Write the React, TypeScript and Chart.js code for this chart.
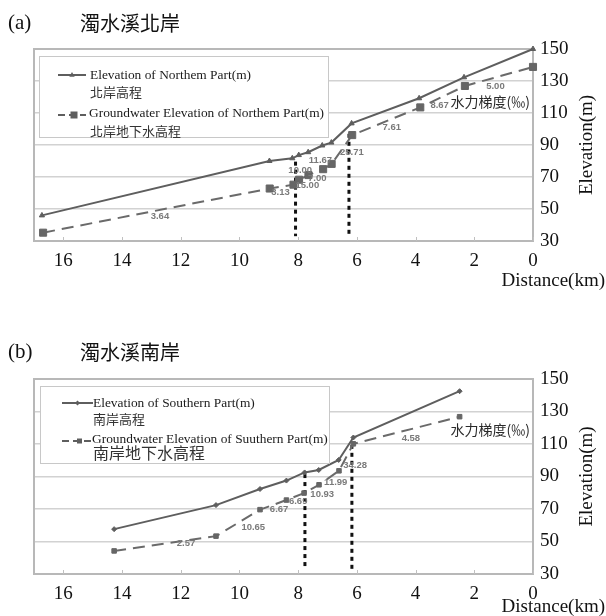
import React, { useEffect, useRef } from 'react';
import { Chart, registerables } from 'chart.js';
Chart.register(...registerables);

// ---------- Panel (a) data: north bank ----------
const northElevDist = [16.73, 8.98, 8.2, 7.98, 7.66, 7.18, 6.87, 6.18, 3.88, 2.35, 0];
const northElev = [46, 80, 81.7, 83.7, 85.5, 89.7, 91.5, 103.5, 119.2, 132.3, 150];
const northGwDist = [16.69, 8.97, 8.16, 7.97, 7.65, 7.15, 6.86, 6.16, 3.84, 2.32, 0];
const northGw = [35.2, 62.8, 65.2, 68.3, 71.2, 74.9, 78.2, 96.2, 113.5, 126.9, 138.8];
const northGradText = ['3.64', '3.13', '15.00', '10.00', '7.00', '11.67', '25.71', '7.61', '8.67', '5.00'];
const northGradX = [12.71, 8.6, 7.69, 7.93, 7.35, 7.24, 6.17, 4.81, 3.18, 1.28];
const northGradY = [45.6, 60.3, 64.5, 73.9, 69.4, 80.2, 85.2, 101.3, 114.7, 126.4];
const northCutX = [8.09, 6.27];
const northCutTop = [79.6, 97];

// ---------- Panel (b) data: south bank ----------
const southElevDist = [14.27, 10.8, 9.3, 8.4, 7.78, 7.3, 6.62, 6.12, 2.5];
const southElev = [57.6, 72.4, 82.3, 87.5, 92.5, 94, 100.2, 114, 142.5];
const southGwDist = [14.27, 10.8, 9.3, 8.4, 7.8, 7.29, 6.61, 6.12, 2.5];
const southGw = [44.2, 53.3, 69.6, 75.5, 79.8, 84.9, 93.5, 110.1, 126.8];
const southGradText = ['2.57', '10.65', '6.67', '6.69', '10.93', '11.99', '34.28', '4.58'];
const southGradX = [11.82, 9.53, 8.65, 8.0, 7.18, 6.72, 6.06, 4.16];
const southGradY = [48.6, 59, 69.7, 74.7, 79.2, 86.1, 96.9, 113.4];
const southCutX = [7.77, 6.17];
const southCutTop = [91.5, 109.5];

// ---------- axes ----------
const distMin = 0;
const distMax = 17;
const distStep = 2;
const elevMin = 30;
const elevMax = 150;
const elevStep = 20;
const cutBottom = 33;

const SERIF = '"Liberation Serif", "Noto Sans CJK TC", serif';
const CJK = '"Noto Sans CJK TC", "Liberation Serif", sans-serif';

type PanelProps = {
  height: number;
  plotTop: number;
  plotBottom: number;
  tag: string;
  title: string;
  elevDist: number[];
  elev: number[];
  gwDist: number[];
  gw: number[];
  gradText: string[];
  gradX: number[];
  gradY: number[];
  cutX: number[];
  cutTop: number[];
  legend: {
    box: [number, number, number, number];
    l1: string; l1cn: string; l2: string; l2cn: string;
    l2cnSize: number;
    sampleX: [number, number];
    textX: number;
    rows: [number, number, number, number];
    elevMarker: 'triangle' | 'diamond';
    sq: number;
  };
  elevStyle: 'triangle' | 'rectRot';
  elevRadius: number;
  sqRadius: number;
  hydroY: number;
  xTitleY: number;
  tagY: number;
};

const PLOT_LEFT = 34;
const PLOT_RIGHT = 533;
const W = 606;

function drawMarker(ctx: CanvasRenderingContext2D, kind: string, x: number, y: number, s: number, color: string) {
  ctx.save();
  ctx.fillStyle = color;
  ctx.beginPath();
  if (kind === 'triangle') {
    ctx.moveTo(x, y - s);
    ctx.lineTo(x + s * 0.9, y + s * 0.6);
    ctx.lineTo(x - s * 0.9, y + s * 0.6);
  } else if (kind === 'diamond') {
    ctx.moveTo(x, y - s);
    ctx.lineTo(x + s, y);
    ctx.lineTo(x, y + s);
    ctx.lineTo(x - s, y);
  } else {
    ctx.rect(x - s, y - s, 2 * s, 2 * s);
  }
  ctx.closePath();
  ctx.fill();
  ctx.restore();
}

function Panel(p: PanelProps) {
  const ref = useRef<HTMLCanvasElement | null>(null);
  useEffect(() => {
    const canvas = ref.current!;
    const lineColor = '#5e5e5e';
    const decor = {
      id: 'decor',
      beforeDatasetsDraw(chart: any) {
        const { ctx, chartArea: a, scales } = chart;
        ctx.save();
        ctx.strokeStyle = '#b8b8b8';
        ctx.lineWidth = 2;
        ctx.strokeRect(a.left, a.top, a.right - a.left, a.bottom - a.top);
        ctx.lineWidth = 1;
        ctx.strokeStyle = '#c0c0c0';
        for (let v = distMin; v <= 16; v += distStep) {
          const x = Math.round(scales.x.getPixelForValue(v)) + 0.5;
          ctx.beginPath();
          ctx.moveTo(x, a.bottom);
          ctx.lineTo(x, a.bottom - 4);
          ctx.stroke();
        }
        ctx.restore();
      },
      afterDatasetsDraw(chart: any) {
        const { ctx, scales } = chart;
        const L = p.legend;
        ctx.save();
        const [bx1, by1, bx2, by2] = L.box;
        ctx.fillStyle = '#ffffff';
        ctx.fillRect(bx1, by1, bx2 - bx1, by2 - by1);
        ctx.strokeStyle = '#c8c8c8';
        ctx.lineWidth = 1;
        ctx.strokeRect(bx1 + 0.5, by1 + 0.5, bx2 - bx1, by2 - by1);
        const [sx1, sx2] = L.sampleX;
        const [r1, r1cn, r2, r2cn] = L.rows;
        ctx.strokeStyle = lineColor;
        ctx.lineWidth = 2;
        ctx.setLineDash([]);
        ctx.beginPath();
        ctx.moveTo(sx1, r1);
        ctx.lineTo(sx2, r1);
        ctx.stroke();
        drawMarker(ctx, L.elevMarker, (sx1 + sx2) / 2, r1, L.elevMarker === 'triangle' ? 3 : 2.5, lineColor);
        ctx.setLineDash([7, 4]);
        ctx.beginPath();
        ctx.moveTo(sx1, r2 + 2);
        ctx.lineTo(sx2, r2 + 2);
        ctx.stroke();
        ctx.setLineDash([]);
        drawMarker(ctx, 'rect', (sx1 + sx2) / 2 + 2, r2 + 2, L.sq, lineColor);
        ctx.fillStyle = '#1a1a1a';
        ctx.textAlign = 'left';
        ctx.textBaseline = 'middle';
        ctx.font = '13.4px ' + SERIF;
        ctx.fillText(L.l1, L.textX, r1);
        ctx.fillText(L.l2, L.textX - 1, r2);
        ctx.font = '13px ' + CJK;
        ctx.fillStyle = '#333';
        ctx.fillText(L.l1cn, L.textX, r1cn);
        ctx.font = L.l2cnSize + 'px ' + CJK;
        ctx.fillText(L.l2cn, L.textX, r2cn);
        ctx.font = 'bold 9.5px "Liberation Sans", Arial, sans-serif';
        ctx.fillStyle = '#7a7a7a';
        ctx.textAlign = 'center';
        for (let i = 0; i < p.gradText.length; i++) {
          ctx.fillText(p.gradText[i], scales.x.getPixelForValue(p.gradX[i]), scales.y.getPixelForValue(p.gradY[i]));
        }
        ctx.font = '14px ' + CJK;
        ctx.fillStyle = '#2a2a2a';
        ctx.textAlign = 'right';
        ctx.fillText('水力梯度(‰)', 530, p.hydroY);
        ctx.restore();
      },
      afterDraw(chart: any) {
        const { ctx, chartArea: a } = chart;
        ctx.save();
        ctx.fillStyle = '#111';
        ctx.textBaseline = 'middle';
        ctx.textAlign = 'left';
        ctx.font = '21px ' + SERIF;
        ctx.fillText(p.tag, 8, p.tagY);
        ctx.font = '20px ' + CJK;
        ctx.fillText(p.title, 80, p.tagY);
        ctx.font = '19px ' + SERIF;
        ctx.textAlign = 'right';
        ctx.fillText('Distance(km)', 605, p.xTitleY);
        ctx.translate(587, (a.top + a.bottom) / 2);
        ctx.rotate(-Math.PI / 2);
        ctx.textAlign = 'center';
        ctx.fillText('Elevation(m)', 0, 0);
        ctx.restore();
      },
    };

    const cutSets = p.cutX.map((cx, i) => ({
      data: [{ x: cx, y: p.cutTop[i] }, { x: cx, y: cutBottom }],
      borderColor: '#111',
      borderWidth: 3,
      borderDash: [4, 4],
      pointRadius: 0,
      fill: false,
    }));

    const chart = new Chart(canvas, {
      type: 'line',
      data: {
        datasets: [
          {
            data: p.elevDist.map((x, i) => ({ x, y: p.elev[i] })),
            borderColor: lineColor,
            borderWidth: 2,
            pointStyle: p.elevStyle,
            pointRadius: p.elevRadius,
            pointBackgroundColor: lineColor,
            pointBorderColor: lineColor,
            pointBorderWidth: 1,
            tension: 0,
            fill: false,
            clip: false,
          },
          {
            data: p.gwDist.map((x, i) => ({ x, y: p.gw[i] })),
            borderColor: '#6a6a6a',
            borderWidth: 2,
            borderDash: [12, 7],
            pointStyle: 'rect',
            pointRadius: p.sqRadius,
            pointBackgroundColor: '#666',
            pointBorderColor: '#666',
            pointBorderWidth: 1,
            tension: 0,
            fill: false,
            clip: false,
          },
          ...cutSets,
        ] as any,
      },
      options: {
        responsive: false,
        animation: false,
        events: [],
        layout: { padding: { left: PLOT_LEFT, top: p.plotTop, right: 0, bottom: 0 } },
        plugins: { legend: { display: false }, tooltip: { enabled: false }, title: { display: false } },
        scales: {
          x: {
            type: 'linear',
            reverse: true,
            min: distMin,
            max: distMax,
            grid: { display: false, drawTicks: false },
            border: { display: false },
            ticks: {
              stepSize: distStep,
              includeBounds: false,
              padding: 9,
              color: '#111',
              font: { family: SERIF, size: 19 },
              maxRotation: 0,
            },
            afterFit(s: any) { s.height = p.height - p.plotBottom; },
          },
          y: {
            type: 'linear',
            position: 'right',
            min: elevMin,
            max: elevMax,
            grid: { color: '#d2d2d2', lineWidth: 1.5, drawTicks: false },
            border: { display: false },
            ticks: {
              stepSize: elevStep,
              padding: 7,
              color: '#111',
              font: { family: SERIF, size: 19 },
            },
            afterFit(s: any) { s.width = W - PLOT_RIGHT; },
          },
        },
      } as any,
      plugins: [decor],
    });
    return () => chart.destroy();
  }, []);
  return <canvas ref={ref} width={W} height={p.height} style={{ display: 'block', width: W, height: p.height }} />;
}

export default function App() {
  return (
    <div style={{ position: 'absolute', left: 0, top: 0, width: 606, height: 616, background: '#fff' }}>
      <div style={{ position: 'absolute', left: 0, top: 0 }}>
        <Panel
          height={300}
          plotTop={49}
          plotBottom={241}
          tag="(a)"
          title="濁水溪北岸"
          tagY={23}
          elevDist={northElevDist}
          elev={northElev}
          gwDist={northGwDist}
          gw={northGw}
          gradText={northGradText}
          gradX={northGradX}
          gradY={northGradY}
          cutX={northCutX}
          cutTop={northCutTop}
          elevStyle="triangle"
          elevRadius={3}
          sqRadius={5}
          hydroY={102}
          xTitleY={281}
          legend={{
            box: [39, 56, 328, 137],
            l1: 'Elevation of Northem Part(m)',
            l1cn: '北岸高程',
            l2: 'Groundwater Elevation of Northem Part(m)',
            l2cn: '北岸地下水高程',
            l2cnSize: 13,
            sampleX: [58, 86],
            textX: 90,
            rows: [75, 92, 113, 131],
            elevMarker: 'triangle',
            sq: 3.5,
          }}
        />
      </div>
      <div style={{ position: 'absolute', left: 0, top: 310 }}>
        <Panel
          height={306}
          plotTop={69}
          plotBottom={264}
          tag="(b)"
          title="濁水溪南岸"
          tagY={42}
          elevDist={southElevDist}
          elev={southElev}
          gwDist={southGwDist}
          gw={southGw}
          gradText={southGradText}
          gradX={southGradX}
          gradY={southGradY}
          cutX={southCutX}
          cutTop={southCutTop}
          elevStyle="rectRot"
          elevRadius={2.5}
          sqRadius={3.2}
          hydroY={120}
          xTitleY={297}
          legend={{
            box: [40, 76, 329, 153],
            l1: 'Elevation of Southern Part(m)',
            l1cn: '南岸高程',
            l2: 'Groundwater Elevation of Suuthern Part(m)',
            l2cn: '南岸地下水高程',
            l2cnSize: 16,
            sampleX: [62, 93],
            textX: 93,
            rows: [93, 109, 129, 143],
            elevMarker: 'diamond',
            sq: 2.5,
          }}
        />
      </div>
    </div>
  );
}
